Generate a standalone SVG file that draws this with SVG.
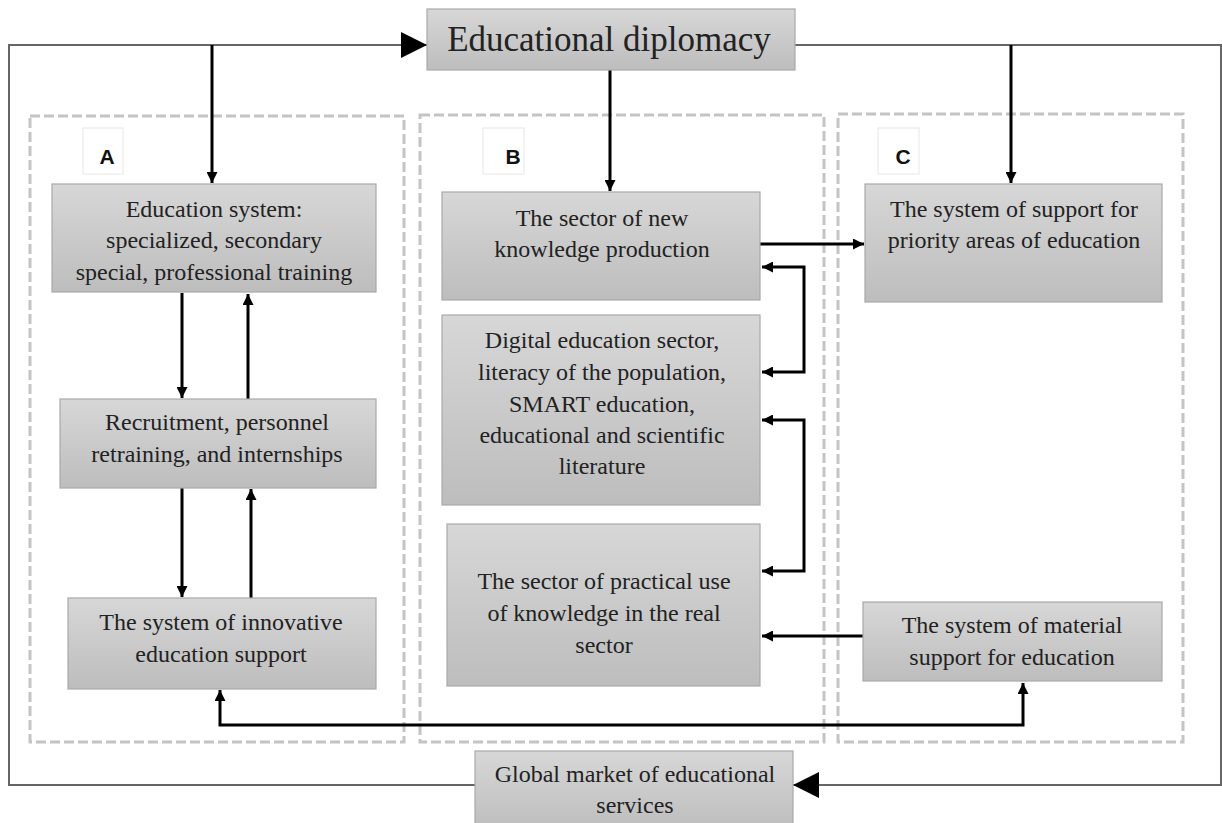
<svg xmlns="http://www.w3.org/2000/svg" width="1222" height="823" viewBox="0 0 1222 823">
<defs>
<linearGradient id="g" x1="0" y1="0" x2="0" y2="1">
<stop offset="0" stop-color="#d7d7d7"/>
<stop offset="1" stop-color="#bdbdbd"/>
</linearGradient>
<marker id="ah" viewBox="0 0 10 10" refX="10" refY="5" markerWidth="11" markerHeight="11" markerUnits="userSpaceOnUse" orient="auto-start-reverse">
<path d="M0,0 L10,5 L0,10 z" fill="#000"/>
</marker>
<marker id="big" viewBox="0 0 10 10" refX="10" refY="5" markerWidth="26" markerHeight="26" markerUnits="userSpaceOnUse" orient="auto">
<path d="M0,0 L10,5 L0,10 z" fill="#000"/>
</marker>
</defs>
<style>
.box{fill:url(#g);stroke:#a9a9a9;stroke-width:1.2}
.t{font-family:"Liberation Serif","Times New Roman",serif;font-size:24px;fill:#222;text-anchor:middle}
.big{font-size:35px}
.dash{fill:none;stroke:#c4c4c4;stroke-width:3;stroke-dasharray:10 4}
.lbl{fill:#fff;stroke:#e6e6e6;stroke-width:1}
.lt{font-family:"Liberation Sans",Arial,sans-serif;font-size:21px;font-weight:bold;fill:#111;text-anchor:middle}
.frame{fill:none;stroke:#666;stroke-width:2}
.c{fill:none;stroke:#000;stroke-width:3}
</style>
<rect width="1222" height="823" fill="#fff"/>

<g id="containers">
<rect class="dash" x="30" y="116" width="374" height="626"/>
<rect class="dash" x="420" y="115" width="404" height="627"/>
<rect class="dash" x="838" y="114" width="345" height="628"/>
<g id="label-A"><rect class="lbl" x="83" y="128" width="40" height="46"/><text class="lt" x="107" y="164">A</text></g>
<g id="label-B"><rect class="lbl" x="483" y="128" width="41" height="46"/><text class="lt" x="513" y="164">B</text></g>
<g id="label-C"><rect class="lbl" x="878" y="128" width="41" height="46"/><text class="lt" x="903" y="164">C</text></g>
</g>

<g id="connectors">
<polyline class="frame" points="427,45 9,45 9,785 475,785"/>
<line x1="9" y1="45" x2="427" y2="45" stroke="#666" stroke-width="2" marker-end="url(#big)"/>
<polyline class="frame" points="795,45 1221,45 1221,785 820,785"/>
<line x1="1221" y1="785" x2="793" y2="785" stroke="#666" stroke-width="2" marker-end="url(#big)"/>
<line class="c" x1="212" y1="45" x2="212" y2="183" marker-end="url(#ah)"/>
<line class="c" x1="610" y1="70" x2="610" y2="191" marker-end="url(#ah)"/>
<line class="c" x1="1011" y1="45" x2="1011" y2="183" marker-end="url(#ah)"/>
<line class="c" x1="182" y1="293" x2="182" y2="398" marker-end="url(#ah)"/>
<line class="c" x1="248" y1="399" x2="248" y2="294" marker-end="url(#ah)"/>
<line class="c" x1="182" y1="488" x2="182" y2="597" marker-end="url(#ah)"/>
<line class="c" x1="251" y1="598" x2="251" y2="489" marker-end="url(#ah)"/>
<line class="c" x1="760" y1="244" x2="864" y2="244" marker-end="url(#ah)"/>
<polyline class="c" points="762,267 804,267 804,372 762,372" marker-start="url(#ah)" marker-end="url(#ah)"/>
<polyline class="c" points="762,420 804,420 804,571 762,571" marker-start="url(#ah)" marker-end="url(#ah)"/>
<line class="c" x1="863" y1="636" x2="762" y2="636" marker-end="url(#ah)"/>
<polyline class="c" points="220,690 220,725 1023,725 1023,683" marker-start="url(#ah)" marker-end="url(#ah)"/>
</g>

<g id="n-diplomacy"><rect class="box" x="427" y="9" width="368" height="61"/><text class="t big" x="609" y="51">Educational diplomacy</text></g>

<g id="n-education"><rect class="box" x="52" y="184" width="324" height="108"/>
<text class="t" x="214" y="217">Education system:</text>
<text class="t" x="214" y="248">specialized, secondary</text>
<text class="t" x="214" y="280">special, professional training</text></g>

<g id="n-recruit"><rect class="box" x="60" y="399" width="316" height="89"/>
<text class="t" x="217" y="430">Recruitment, personnel</text>
<text class="t" x="217" y="462">retraining, and internships</text></g>

<g id="n-innov"><rect class="box" x="68" y="598" width="308" height="91"/>
<text class="t" x="221" y="630">The system of innovative</text>
<text class="t" x="221" y="662">education support</text></g>

<g id="n-newknow"><rect class="box" x="442" y="192" width="318" height="108"/>
<text class="t" x="602" y="226">The sector of new</text>
<text class="t" x="602" y="257">knowledge production</text></g>

<g id="n-digital"><rect class="box" x="442" y="315" width="318" height="190"/>
<text class="t" x="602" y="348">Digital education sector,</text>
<text class="t" x="602" y="380">literacy of the population,</text>
<text class="t" x="602" y="412">SMART education,</text>
<text class="t" x="602" y="443">educational and scientific</text>
<text class="t" x="602" y="474">literature</text></g>

<g id="n-practical"><rect class="box" x="447" y="524" width="313" height="162"/>
<text class="t" x="604" y="589">The sector of practical use</text>
<text class="t" x="604" y="621">of knowledge in the real</text>
<text class="t" x="604" y="653">sector</text></g>

<g id="n-priority"><rect class="box" x="865" y="184" width="297" height="118"/>
<text class="t" x="1014" y="217">The system of support for</text>
<text class="t" x="1014" y="248">priority areas of education</text></g>

<g id="n-material"><rect class="box" x="863" y="602" width="299" height="79"/>
<text class="t" x="1012" y="633">The system of material</text>
<text class="t" x="1012" y="665">support for education</text></g>

<g id="n-global"><rect class="box" x="475" y="751" width="318" height="80"/>
<text class="t" x="635" y="782">Global market of educational</text>
<text class="t" x="635" y="813">services</text></g>
</svg>
